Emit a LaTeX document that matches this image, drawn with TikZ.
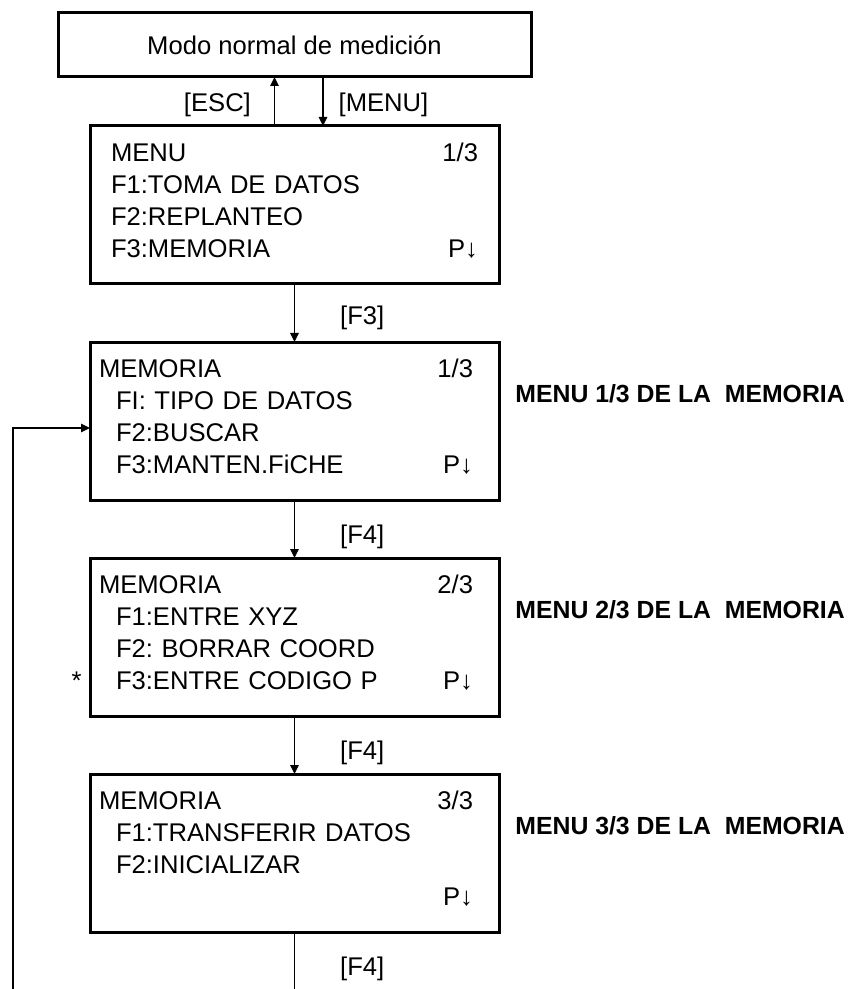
\documentclass[tikz,border=0pt]{standalone}
\usepackage{fontspec}
\setmainfont{Liberation Sans}
\usepackage{tikz}
\usetikzlibrary{positioning,arrows.meta}
\frenchspacing
\newcommand{\scrfont}{\fontsize{12.8pt}{16pt}\selectfont}
\tikzset{
  node distance=29pt,
  mode/.style   ={rectangle, draw, line width=1.5pt, outer sep=0pt,
                  minimum width=236.5pt, minimum height=32pt, font=\scrfont},
  screen/.style ={rectangle, draw, line width=1.5pt, outer sep=0pt,
                  minimum width=204.5pt, minimum height=79pt,
                  inner xsep=13pt, inner ysep=0pt, text width=178.5pt,
                  text height=9.2pt, text depth=53pt, align=left, font=\scrfont},
  menubox/.style={screen, inner xsep=10.5pt, text width=183.5pt},
  side/.style   ={font=\fontsize{12.4pt}{15pt}\selectfont\bfseries, inner sep=0pt},
  fl/.style     ={-{Triangle[length=4.5pt,width=4.2pt]}, line width=0.65pt},
  ln/.style     ={line width=0.65pt},
  lbl/.style    ={font=\scrfont, inner sep=0pt},
}
\begin{document}
\begin{tikzpicture}
  \useasboundingbox (0,0) rectangle (428.5pt,-494.5pt);
  \node[mode] (mode) at (147.25pt,-22.5pt) {Modo normal de medición};
  \node[menubox,below=24.5pt of mode] (menu){MENU\hfill 1/3\\F1:TOMA DE DATOS\\F2:REPLANTEO\\F3:MEMORIA\hfill P↓};
  \node[screen,below=of menu] (mem1){\hspace*{-8.5pt}MEMORIA\hfill 1/3\\FI: TIPO DE DATOS\\F2:BUSCAR\\F3:MANTEN.FiCHE\hfill P↓};
  \node[screen,below=of mem1] (mem2){\hspace*{-8.5pt}MEMORIA\hfill 2/3\\F1:ENTRE XYZ\\F2: BORRAR COORD\\F3:ENTRE CODIGO P\hfill P↓};
  \node[screen,below=of mem2] (mem3){\hspace*{-8.5pt}MEMORIA\hfill 3/3\\F1:TRANSFERIR DATOS\\F2:INICIALIZAR\\\hfill P↓};
  \node[side,right=8pt of mem1.east,yshift=13.5pt] (lab1){MENU 1/3 DE LA\ \ MEMORIA};
  \node[side,right=8pt of mem2.east,yshift=13.5pt] (lab2){MENU 2/3 DE LA\ \ MEMORIA};
  \node[side,right=8pt of mem3.east,yshift=13.5pt] (lab3){MENU 3/3 DE LA\ \ MEMORIA};
  \node[lbl,anchor=base east] (star) at ([xshift=-4pt,yshift=-26.1pt]mem2.west) {*};
  \coordinate (loopend) at (6.5pt,-494.5pt);
  \draw[fl]([xshift=-10pt]menu.north)--([xshift=-10pt]mode.south) node[lbl,midway,left=11.5pt,yshift=-1.75pt]{[ESC]};
  \draw[fl]([xshift=14.25pt]mode.south)--([xshift=14.25pt]menu.north) node[lbl,midway,right=7.5pt,yshift=-1.75pt]{[MENU]};
  \draw[fl](menu)--(mem1) node[lbl,midway,right=22.5pt,yshift=-2.5pt]{[F3]};
  \draw[fl](mem1)--(mem2) node[lbl,midway,right=22.5pt,yshift=-4pt]{[F4]};
  \draw[fl](mem2)--(mem3) node[lbl,midway,right=22.5pt,yshift=-4pt]{[F4]};
  \draw[ln](mem3)--(mem3 |- loopend) node[lbl,midway,right=22.5pt,yshift=-4pt]{[F4]};
  \draw[fl](loopend) |- ([yshift=-3.5pt]mem1.west);
\end{tikzpicture}
\end{document}
